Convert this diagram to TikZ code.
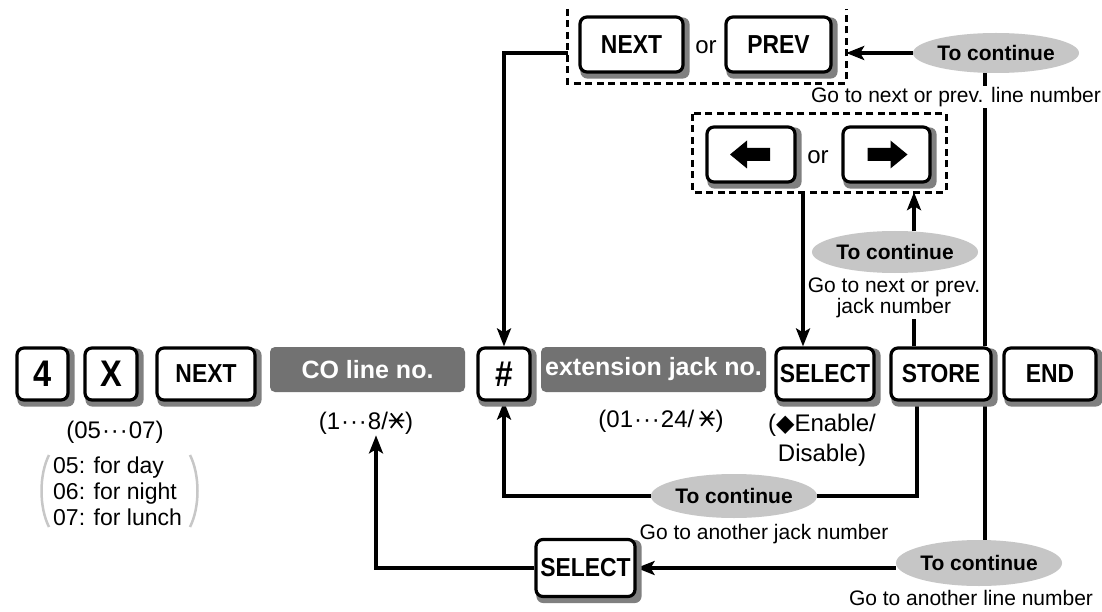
\documentclass[tikz,border=0pt]{standalone}
\usepackage{fontspec}
\setmainfont{Liberation Sans}
\newfontfamily\keyfont{Liberation Sans}[FakeStretch=0.88]
\newfontfamily\symfont{DejaVu Sans}
\usetikzlibrary{arrows.meta,shapes.geometric}
\pgfdeclarelayer{bg}
\pgfdeclarelayer{shade}
\pgfsetlayers{bg,shade,main}
\definecolor{boxgray}{HTML}{727272}
\definecolor{ovalgray}{HTML}{C6C6C6}
\newcommand\sxt{\tikz[baseline=0pt,x=1em,y=1em,line width=0.075em,line cap=butt]{\path (0,0) (0.72,0.72); \draw (0.04,0.36)--(0.68,0.36) (0.12,0.06)--(0.60,0.66) (0.12,0.66)--(0.60,0.06);}}
\newcommand\mdots{\kern0.04em·\kern0.04em·\kern0.04em·\kern0.04em}
\tikzset{
  key/.style={draw, line width=3.2pt, rounded corners=7pt, fill=white, inner sep=0pt,
    font=\keyfont\bfseries\fontsize{26}{28}\selectfont},
  bigkey/.style={key, font=\keyfont\bfseries\fontsize{37}{40}\selectfont},
  keyshadow/.style={fill=black!50, rounded corners=7pt},
  gbox/.style={fill=boxgray, rounded corners=5pt, text=white, inner sep=0pt,
    font=\bfseries\fontsize{25}{27}\selectfont},
  oval/.style={ellipse, fill=ovalgray, inner sep=0pt, font=\bfseries\fontsize{21}{23}\selectfont},
  note/.style={inner sep=1pt, font=\fontsize{21}{21}\selectfont},
  bignote/.style={inner sep=1pt, font=\fontsize{24}{30}\selectfont},
  conn/.style={line width=3.2pt},
  arr/.style={conn, -{Stealth[length=18pt,width=14pt,inset=4pt]}},
  dbox/.style={line width=3.2pt, dash pattern=on 7pt off 4.5pt}
}
\begin{document}
\begin{tikzpicture}[x=1pt,y=-1pt]
\begin{pgfonlayer}{bg}
\fill[white] (0,0) rectangle (1102,612);
\end{pgfonlayer}
\useasboundingbox (0,0) rectangle (1102,612);

% main row
\node[bigkey, minimum width=51pt, minimum height=52pt] (k4) at (42.5,374) {4};
\node[bigkey, minimum width=52pt, minimum height=52pt] (kX) at (111,374) {X};
\node[key, minimum width=98pt, minimum height=52pt] (kN) at (206,374) {NEXT};
\node[gbox, minimum width=195pt, minimum height=45pt] (co) at (367.5,369.5) {CO line no.};
\node[key, minimum width=52pt, minimum height=52pt, font=\keyfont\bfseries\fontsize{36}{38}\selectfont] (kH) at (504,374) {\#};
\node[gbox, minimum width=225pt, minimum height=45pt] (ext) at (653.5,369.5) {extension jack no.};
\node[key, minimum width=98pt, minimum height=52pt] (kS) at (825,374) {SELECT};
\node[key, minimum width=100pt, minimum height=52pt] (kT) at (941,374) {STORE};
\node[key, minimum width=92pt, minimum height=52pt] (kE) at (1050,374) {END};

% annotations of main row
\node[bignote] (c05) at (115,432) {(05\mdots 07)};
\node[inner sep=1pt, font=\fontsize{23}{26}\selectfont, align=left, anchor=west] (lst) at (52,491) {05: for day\\06: for night\\07: for lunch};
\draw[black!22, line width=2.5pt] (49,455) .. controls (39,475) and (39,507) .. (49,527);
\draw[black!22, line width=2.5pt] (190,455) .. controls (200,475) and (200,507) .. (190,527);
\node[bignote] (c1) at (366,423) {(1\mdots 8/\sxt)};
\node[bignote] (c2) at (661,421) {(01\mdots 24/\,\sxt)};
\node[bignote, align=center] (c3) at (822,440) {({\symfont◆}Enable/\\Disable)};

% top group
\node[minimum width=278pt, minimum height=74pt, inner sep=0pt] (d1) at (707,46) {};
\draw[dbox] (d1.north west) -- (d1.south west) -- (d1.south east) -- (d1.north east);
\node[key, minimum width=103pt, minimum height=55pt] (tN) at (631.5,44.5) {NEXT};
\node[inner sep=1pt, font=\fontsize{24}{26}\selectfont] (or1) at (706,47) {or};
\node[key, minimum width=105pt, minimum height=55pt] (tP) at (778.5,44.5) {PREV};
\node[oval, minimum width=142pt, minimum height=40pt] (e1) at (996,53) {To continue};
\node[note, fill=white] (t1) at (956,97) {Go to next or prev. line number};

% arrow keys group
\node[minimum width=253pt, minimum height=78pt, inner sep=0pt] (d2) at (819.5,153) {};
\draw[dbox] (d2.north west) rectangle (d2.south east);
\node[key, minimum width=88pt, minimum height=55pt] (kL) at (751,154.5) {};
\node[inner sep=1pt, font=\fontsize{24}{26}\selectfont] (or2) at (818,157) {or};
\node[key, minimum width=87pt, minimum height=55pt] (kR) at (886.5,154.5) {};
\fill[shift={(kL.center)}] (-21,0) -- (-4,-14) -- (-4,-6.5) -- (19,-6.5) -- (19,6.5) -- (-4,6.5) -- (-4,14) -- cycle;
\fill[shift={(kR.center)}] (21,0) -- (4,-14) -- (4,-6.5) -- (-19,-6.5) -- (-19,6.5) -- (4,6.5) -- (4,14) -- cycle;
\node[oval, minimum width=144pt, minimum height=42pt] (e2) at (895,252) {To continue};
\node[note, align=center] (t2) at (894,298) {Go to next or prev.\\jack number};

% bottom
\node[oval, minimum width=144pt, minimum height=44pt] (e3) at (734,496) {To continue};
\node[note] (t3) at (764,534) {Go to another jack number};
\node[oval, minimum width=140pt, minimum height=46pt] (e4) at (979,563) {To continue};
\node[note] (t4) at (971,598) {Go to another line number};
\node[key, minimum width=99pt, minimum height=57pt] (kS2) at (585.5,568) {SELECT};

% key shadows
\begin{pgfonlayer}{shade}
\foreach \k in {k4,kX,kN,kH,kS,kT,kE,tN,tP,kL,kR,kS2}
  \fill[keyshadow] ([shift={(2pt,-2pt)}]\k.north west) rectangle ([shift={(5pt,-5pt)}]\k.south east);
\end{pgfonlayer}

\begin{pgfonlayer}{bg}
\draw[arr] (e1.west) -- (e1.west -| d1.east);
\draw[arr] (d1.west |- e1.west) -| (kH.north);
\draw[conn] ([xshift=44pt]kT.north |- e1.south) -- ([xshift=44pt]kT.north);
\draw[arr] ([xshift=-22pt]kS.north |- d2.south) -- ([xshift=-22pt]kS.north);
\draw[arr] ([xshift=-27pt]kT.north |- e2.north) -- ([xshift=-27pt]kT.north |- d2.south);
\draw[conn] ([xshift=-27pt]kT.north) -- ([xshift=-27pt]kT.north |- t2.south);
\draw[conn] ([xshift=-24pt]kT.south) |- (e3.east);
\draw[arr] (e3.west) -| (kH.south);
\draw[conn] ([xshift=44pt]kT.south) -- ([xshift=44pt]kT.south |- e4.north);
\draw[arr] (e4.west |- kS2.east) -- (kS2.east);
\draw[arr] (kS2.west) -| ([xshift=10pt]c1.south);
\end{pgfonlayer}
\end{tikzpicture}
\end{document}
